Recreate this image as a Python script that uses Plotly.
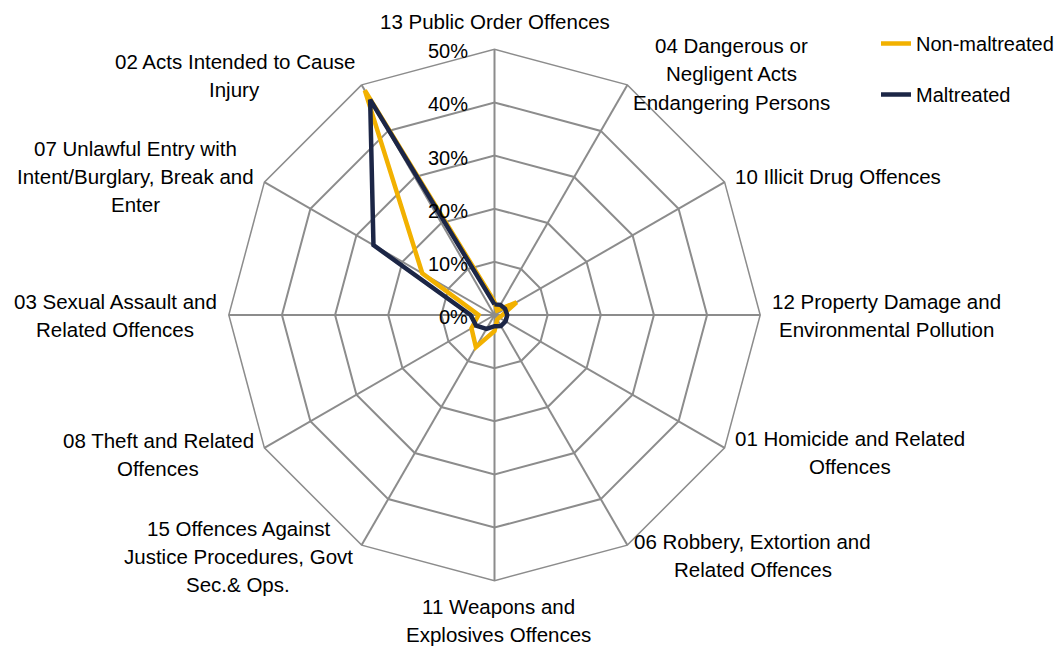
import plotly.graph_objects as go

categories = [
    "13 Public Order Offences",
    "04 Dangerous or<br>Negligent Acts<br>Endangering Persons",
    "10 Illicit Drug Offences",
    "12 Property Damage and<br>Environmental Pollution",
    "01 Homicide and Related<br>Offences",
    "06 Robbery, Extortion and<br>Related Offences",
    "11 Weapons and<br>Explosives Offences",
    "15 Offences Against<br>Justice Procedures, Govt<br>Sec.& Ops.",
    "08 Theft and Related<br>Offences",
    "03 Sexual Assault and<br>Related Offences",
    "07 Unlawful Entry with<br>Intent/Burglary, Break and<br>Enter",
    "02 Acts Intended to Cause<br>Injury",
]
non_maltreated = [2.5, 1.0, 4.8, 1.5, 1.0, 1.0, 3.0, 7.0, 5.0, 3.0, 15.7, 48.8]
maltreated = [2.0, 2.2, 2.3, 2.4, 2.4, 2.4, 2.1, 3.0, 4.0, 4.5, 26.3, 46.8]
radial_ticks = [0, 10, 20, 30, 40, 50]
radial_max = 50

# ---- styling / layout (page pixels of the 1060x648 window) ----
ORANGE = "#F2B100"
NAVY = "#1C2646"
GRID = "#8C8C8C"
FONT = "Liberation Sans, Arial, sans-serif"
W, H = 1060, 648
CX, CY, R = 494.5, 315.0, 265.7
LINE_GAP = 28.0
RADIAL_LABEL_RIGHT = 470.0
# centre of each category label block, page pixels, in category order
label_centres = [
    (494.5, 21.0), (731.5, 74.0), (837.5, 176.7), (886.5, 315.8),
    (849.5, 452.5), (752.5, 555.5), (498.0, 620.5), (238.0, 556.7),
    (158.2, 454.0), (115.0, 315.8), (135.0, 176.7), (234.5, 75.5),
]


def px(x):
    return x / W


def py(y):
    return 1 - y / H


def closed(vals):
    return list(vals) + [vals[0]]


fig = go.Figure()
fig.add_trace(go.Scatterpolar(
    r=closed(non_maltreated), theta=closed(categories), mode="lines",
    name="Non-maltreated", line=dict(color=ORANGE, width=4.5),
    legendgroup="a",
))
fig.add_trace(go.Scatterpolar(
    r=closed(maltreated), theta=closed(categories), mode="lines",
    name="Maltreated", line=dict(color=NAVY, width=4.5),
    legendgroup="b",
))

annotations = []
for label, (lx, ly) in zip(categories, label_centres):
    lines = label.split("<br>")
    n = len(lines)
    for i, txt in enumerate(lines):
        y = ly + (i - (n - 1) / 2) * LINE_GAP
        annotations.append(dict(
            text=txt, x=px(lx), y=py(y), xref="paper", yref="paper",
            xanchor="center", yanchor="middle", showarrow=False,
            font=dict(size=20.5, family=FONT, color="#000"),
        ))

# radial tick labels, placed at each ring level left of the vertical spoke
for v in radial_ticks:
    ring_y = CY - v / radial_max * R
    annotations.append(dict(
        text=f"{v}%", x=px(RADIAL_LABEL_RIGHT), y=py(ring_y + 2),
        xref="paper", yref="paper", xanchor="right", yanchor="middle",
        showarrow=False, font=dict(size=20, family=FONT, color="#000"),
    ))

fig.update_layout(
    width=W, height=H,
    margin=dict(l=0, r=0, t=0, b=0),
    paper_bgcolor="white", plot_bgcolor="white",
    font=dict(family=FONT, size=20, color="#000000"),
    polar=dict(
        domain=dict(x=[px(CX - R), px(CX + R)],
                    y=[py(CY + R), py(CY - R)]),
        gridshape="linear",
        bgcolor="white",
        angularaxis=dict(
            rotation=90, direction="clockwise",
            categoryorder="array", categoryarray=categories,
            showline=True, linecolor=GRID, linewidth=1.5,
            gridcolor=GRID, gridwidth=1.5,
            ticks="", showticklabels=False,
        ),
        radialaxis=dict(
            range=[0, radial_max], tickvals=radial_ticks,
            showticklabels=False,
            angle=90, showline=False, ticks="",
            gridcolor=GRID, gridwidth=1.5,
        ),
    ),
    annotations=annotations,
    legend=dict(
        x=px(914 - 38), xanchor="left", y=py(24), yanchor="top",
        font=dict(size=20, family=FONT, color="#000"),
        traceorder="grouped", tracegroupgap=22,
        bgcolor="rgba(0,0,0,0)",
    ),
    showlegend=True,
)

fig.write_html(
    "out.html",
    config={"displayModeBar": False},
    post_script="document.body.style.margin='0px';"
                "document.body.style.overflow='hidden';",
)
